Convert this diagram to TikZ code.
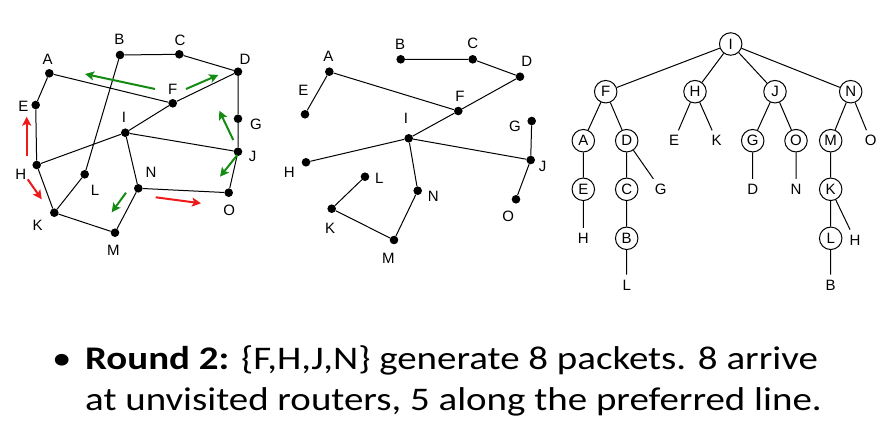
\documentclass[tikz,border=0pt]{standalone}
\usepackage{fontspec}
\setmainfont{Carlito}
\newfontfamily\bodyfont[FakeStretch=1.18]{Carlito}
\newfontfamily\arialf{Liberation Sans}
\usetikzlibrary{arrows.meta}
\definecolor{agreen}{RGB}{20,140,20}
\definecolor{ared}{RGB}{240,25,25}
\begin{document}
\begin{tikzpicture}[x=1pt,y=-1pt,
  dot/.style={circle,fill=black,inner sep=0pt,minimum size=8.6pt},
  lbl/.style={font=\arialf\fontsize{15}{16}\selectfont,inner sep=0pt},
  edge/.style={line width=1pt},
  garrow/.style={agreen,line width=2pt,-{Stealth[length=9pt,width=9pt,inset=2pt]}},
  rarrow/.style={ared,line width=2pt,-{Stealth[length=9pt,width=9pt,inset=2pt]}},
  tc/.style={circle,draw,line width=1pt,minimum size=22.5pt,inner sep=0pt,font=\arialf\fontsize{15}{16}\selectfont},
  tt/.style={inner sep=5pt,font=\arialf\fontsize{15}{16}\selectfont},
  body/.style={font=\bodyfont\fontsize{33}{40.7}\selectfont,inner sep=0pt,anchor=base west}
]
\useasboundingbox (0,0) rectangle (883,436);

% ---------- left graph ----------
\node[dot] (A) at (49.3,73.3) {};
\node[dot] (B) at (120,55) {};
\node[dot] (C) at (179.3,54.3) {};
\node[dot] (D) at (238,71.7) {};
\node[dot] (E) at (35.7,105) {};
\node[dot] (F) at (172.7,103.3) {};
\node[dot] (G) at (238,118.7) {};
\node[dot] (I) at (125.3,132.7) {};
\node[dot] (J) at (238,151.7) {};
\node[dot] (H) at (36.7,165) {};
\node[dot] (L) at (84.7,174.3) {};
\node[dot] (N) at (138.3,188.3) {};
\node[dot] (O) at (228.7,192.7) {};
\node[dot] (K) at (54.3,212.7) {};
\node[dot] (M) at (115,232.7) {};

\node[lbl] (lA) at (47.7,59.3) {A};
\node[lbl] (lB) at (119.3,39.3) {B};
\node[lbl] (lC) at (180,40) {C};
\node[lbl] (lD) at (245,59.3) {D};
\node[lbl] (lE) at (23.3,106.5) {E};
\node[lbl] (lF) at (172.7,89.3) {F};
\node[lbl] (lG) at (256,124) {G};
\node[lbl] (lI) at (124,117.3) {I};
\node[lbl] (lJ) at (252.7,156) {J};
\node[lbl] (lH) at (20.7,174) {H};
\node[lbl] (lL) at (95,190) {L};
\node[lbl] (lN) at (151,172.7) {N};
\node[lbl] (lO) at (229.3,210.7) {O};
\node[lbl] (lK) at (37.7,225) {K};
\node[lbl] (lM) at (113.3,250) {M};

\draw[edge] (A)--(E) (A)--(F) (B)--(C) (C)--(D) (B)--(L) (D)--(F) (D)--(G)
  (G)--(J) (F)--(I) (I)--(H) (I)--(J) (I)--(N) (E)--(H) (H)--(K) (K)--(L)
  (K)--(M) (M)--(N) (N)--(O) (J)--(O);

\coordinate (g1s) at (155,89);   \coordinate (g1e) at (85,74);
\coordinate (g2s) at (186,89);   \coordinate (g2e) at (218.3,75);
\coordinate (g3s) at (233.3,140); \coordinate (g3e) at (219.3,110.7);
\coordinate (g4s) at (237.3,155); \coordinate (g4e) at (220,176.7);
\coordinate (g5s) at (126,192.7); \coordinate (g5e) at (111.7,212.3);
\coordinate (r1s) at (26.7,156);  \coordinate (r1e) at (26.7,116.7);
\coordinate (r2s) at (27.7,179.3); \coordinate (r2e) at (41.7,199.3);
\coordinate (r3s) at (155.7,197.3); \coordinate (r3e) at (201,203.3);
\draw[garrow] (g1s)--(g1e);
\draw[garrow] (g2s)--(g2e);
\draw[garrow] (g3s)--(g3e);
\draw[garrow] (g4s)--(g4e);
\draw[garrow] (g5s)--(g5e);
\draw[rarrow] (r1s)--(r1e);
\draw[rarrow] (r2s)--(r2e);
\draw[rarrow] (r3s)--(r3e);

% ---------- middle graph ----------
\node[dot] (mA) at (329.3,71.7) {};
\node[dot] (mB) at (400.7,59.3) {};
\node[dot] (mC) at (472.7,59.3) {};
\node[dot] (mD) at (520,76.7) {};
\node[dot] (mE) at (305,114.3) {};
\node[dot] (mF) at (458.3,111) {};
\node[dot] (mG) at (531.7,121) {};
\node[dot] (mI) at (408.7,138.3) {};
\node[dot] (mJ) at (530.7,160) {};
\node[dot] (mH) at (306,162.3) {};
\node[dot] (mL) at (365,176.7) {};
\node[dot] (mN) at (417.7,190.7) {};
\node[dot] (mO) at (516,199.3) {};
\node[dot] (mK) at (331.7,208.7) {};
\node[dot] (mM) at (394,240) {};

\node[lbl] (mlA) at (328.3,56) {A};
\node[lbl] (mlB) at (400,44) {B};
\node[lbl] (mlC) at (472.7,43.3) {C};
\node[lbl] (mlD) at (526.7,61.7) {D};
\node[lbl] (mlE) at (303.3,90.7) {E};
\node[lbl] (mlF) at (460,96) {F};
\node[lbl] (mlG) at (515,126) {G};
\node[lbl] (mlI) at (406,118.3) {I};
\node[lbl] (mlJ) at (542.7,166.7) {J};
\node[lbl] (mlH) at (289.3,172.7) {H};
\node[lbl] (mlL) at (379.3,178.3) {L};
\node[lbl] (mlN) at (433.3,196.7) {N};
\node[lbl] (mlO) at (508.3,216) {O};
\node[lbl] (mlK) at (330,228.3) {K};
\node[lbl] (mlM) at (388.3,258.3) {M};

\draw[edge] (mA)--(mE) (mA)--(mF) (mB)--(mC) (mC)--(mD) (mD)--(mF) (mF)--(mI)
  (mI)--(mH) (mI)--(mJ) (mI)--(mN) (mG)--(mJ) (mJ)--(mO) (mL)--(mK)
  (mK)--(mM) (mM)--(mN);

% ---------- tree ----------
\node[tc] (tI) at (730.7,44) {I};
\node[tc] (tF) at (605.7,91.7) {F};
\node[tc] (tH) at (695,91.7) {H};
\node[tc] (tJ) at (775,91.7) {J};
\node[tc] (tN) at (850.7,91.7) {N};
\node[tc] (tA) at (583.3,140.7) {A};
\node[tc] (tD) at (626.7,140.7) {D};
\node[tt] (tE1) at (674,140.7) {E};
\node[tt] (tK1) at (716.7,140.7) {K};
\node[tc] (tG) at (752.7,140.7) {G};
\node[tc] (tO) at (796,140.7) {O};
\node[tc] (tM) at (830.7,140.7) {M};
\node[tt] (tO2) at (870.7,140.7) {O};
\node[tc] (tE) at (583.3,189.3) {E};
\node[tc] (tC) at (626.7,189.3) {C};
\node[tt] (tG2) at (660.7,189.3) {G};
\node[tt] (tD2) at (752.7,189.3) {D};
\node[tt] (tN2) at (796,189.3) {N};
\node[tc] (tK) at (830.7,189.3) {K};
\node[tt] (tH2) at (583.3,238.3) {H};
\node[tc] (tB) at (626.7,238.3) {B};
\node[tc] (tL) at (830.7,238.3) {L};
\node[tt] (tH3) at (855,240) {H};
\node[tt] (tL2) at (626.7,285) {L};
\node[tt] (tB2) at (830.7,285) {B};

\draw[edge] (tI)--(tF) (tI)--(tH) (tI)--(tJ) (tI)--(tN)
  (tF)--(tA) (tF)--(tD) (tH)--(tE1) (tH)--(tK1) (tJ)--(tG) (tJ)--(tO)
  (tN)--(tM) (tN)--(tO2) (tA)--(tE) (tD)--(tC) (tD)--(tG2) (tG)--(tD2)
  (tO)--(tN2) (tM)--(tK) (tE)--(tH2) (tC)--(tB) (tK)--(tL) (tK)--(tH3)
  (tB)--(tL2) (tL)--(tB2);

% ---------- text ----------
\node[body,anchor=base] (bul) at (61.7,369.3) {•};
\node[body] (line1) at (85,369.3) {\textbf{Round 2:} \{F,H,J,N\} generate 8 packets. 8 arrive};
\node[body] (line2) at (85,410) {at unvisited routers, 5 along the preferred line.};
\end{tikzpicture}
\end{document}
